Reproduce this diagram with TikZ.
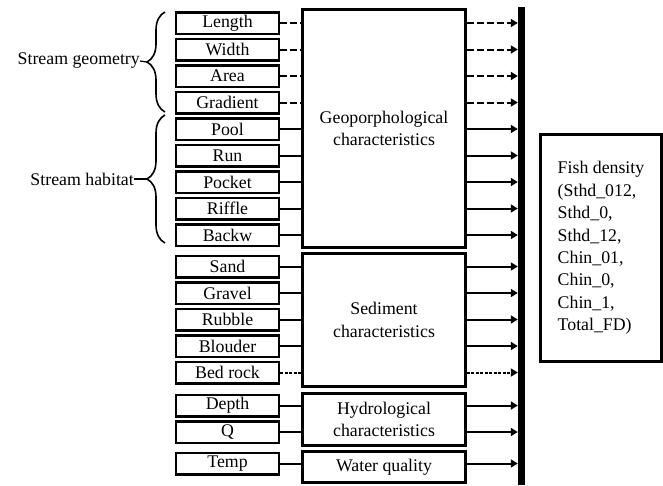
\documentclass[tikz,border=0pt]{standalone}
\usepackage{fontspec}
\setmainfont{Liberation Serif}
\usepackage{tikz}
\usetikzlibrary{arrows.meta,decorations.pathreplacing}

\begin{document}
\begin{tikzpicture}[
  x=1pt, y=-1pt,
  every node/.style={font=\fontsize{17.8}{22.4}\selectfont},
  varbox/.style={draw, line width=2.5pt, minimum width=103pt, minimum height=21.5pt, inner sep=0pt},
  groupbox/.style={draw, line width=2.5pt, minimum width=163pt, align=center, inner sep=0pt},
  link/.style={line width=2pt},
  feed/.style={line width=2pt, -{Triangle[length=7pt,width=8pt]}},
  gap/.style={dash pattern=on 7pt off 3pt},
  fine/.style={dash pattern=on 3pt off 1.5pt},
  grp/.style={decorate, decoration={brace, amplitude=18pt}, line width=1.6pt}
]
\useasboundingbox (0,0) rectangle (663,485);

% input variables
\node[varbox] (len)  at (227.5,23)    {Length};
\node[varbox] (wid)  at (227.5,49.5)  {Width};
\node[varbox] (area) at (227.5,76)    {Area};
\node[varbox] (grad) at (227.5,102.5) {Gradient};
\node[varbox] (pool) at (227.5,129)   {Pool};
\node[varbox] (run)  at (227.5,155.5) {Run};
\node[varbox] (pock) at (227.5,182)   {Pocket};
\node[varbox] (riff) at (227.5,208.5) {Riffle};
\node[varbox] (back) at (227.5,235)   {Backw};

\node[varbox] (sand) at (227.5,266.5) {Sand};
\node[varbox] (grav) at (227.5,293)   {Gravel};
\node[varbox] (rubb) at (227.5,319.5) {Rubble};
\node[varbox] (blou) at (227.5,346)   {Blouder};
\node[varbox] (bed)  at (227.5,372.5) {Bed rock};

\node[varbox] (dep)  at (227.5,405.5) {Depth};
\node[varbox] (q)    at (227.5,432)   {Q};
\node[varbox] (temp) at (227.5,463.5) {Temp};

% groups
\node[groupbox, minimum height=238pt] (geo)  at (384,128.5) {Geoporphological\\characteristics};
\node[groupbox, minimum height=133pt] (sed)  at (384,320)   {Sediment\\characteristics};
\node[groupbox, minimum height=52pt]  (hyd)  at (384,419.5) {Hydrological\\characteristics};
\node[groupbox, minimum height=31pt]  (wq)   at (384,467)   {Water quality};

% collector bar and response
\node[fill=black, minimum width=7pt, minimum height=478pt, inner sep=0pt] (bar) at (521.5,246) {};
\node[draw, line width=2.5pt, minimum width=121pt, minimum height=227pt, align=left] (fish) at (601,248)
  {Fish density\\(Sthd\_012,\\Sthd\_0,\\Sthd\_12,\\Chin\_01,\\Chin\_0,\\Chin\_1,\\Total\_FD)};

% links into geo
\draw[link, gap] (len)  -- (geo.west |- len);
\draw[link, gap] (wid)  -- (geo.west |- wid);
\draw[link, gap] (area) -- (geo.west |- area);
\draw[link, gap] (grad) -- (geo.west |- grad);
\draw[link] (pool) -- (geo.west |- pool);
\draw[link] (run)  -- (geo.west |- run);
\draw[link] (pock) -- (geo.west |- pock);
\draw[link] (riff) -- (geo.west |- riff);
\draw[link] (back) -- (geo.west |- back);

\draw[feed, gap] (geo.east |- len)  -- (bar.west |- len);
\draw[feed, gap] (geo.east |- wid)  -- (bar.west |- wid);
\draw[feed, gap] (geo.east |- area) -- (bar.west |- area);
\draw[feed, gap] (geo.east |- grad) -- (bar.west |- grad);
\draw[feed] (geo.east |- pool) -- (bar.west |- pool);
\draw[feed] (geo.east |- run)  -- (bar.west |- run);
\draw[feed] (geo.east |- pock) -- (bar.west |- pock);
\draw[feed] (geo.east |- riff) -- (bar.west |- riff);
\draw[feed] (geo.east |- back) -- (bar.west |- back);

% links into sediment
\draw[link] (sand) -- (sed.west |- sand);
\draw[link] (grav) -- (sed.west |- grav);
\draw[link] (rubb) -- (sed.west |- rubb);
\draw[link] (blou) -- (sed.west |- blou);
\draw[link, fine] (bed) -- (sed.west |- bed);

\draw[feed] (sed.east |- sand) -- (bar.west |- sand);
\draw[feed] (sed.east |- grav) -- (bar.west |- grav);
\draw[feed] (sed.east |- rubb) -- (bar.west |- rubb);
\draw[feed] (sed.east |- blou) -- (bar.west |- blou);
\draw[feed, fine] (sed.east |- bed) -- (bar.west |- bed);

% hydrology and water quality
\draw[link] (dep)  -- (hyd.west |- dep);
\draw[link] (q)    -- (hyd.west |- q);
\draw[link] (temp) -- (wq.west |- temp);

\draw[feed] (hyd.east |- dep)  -- (bar.west |- dep);
\draw[feed] (hyd.east |- q)    -- (bar.west |- q);
\draw[feed] (wq.east |- temp)  -- (bar.west |- temp);

% braces
\draw[grp] (165,112) -- (165,12);
\draw[grp] (165,243) -- (165,115);
\node[anchor=east, inner sep=0pt] (geomlbl) at (140,61) {Stream geometry};
\node[anchor=east, inner sep=0pt] (habilbl) at (134,179) {Stream habitat};
\coordinate (geomtip) at (147,62);
\coordinate (habitip) at (147,179);
\draw[line width=1.2pt] (geomlbl.east) -- (geomtip);
\draw[line width=1.2pt] (habilbl.east) -- (habitip);
\end{tikzpicture}
\end{document}
